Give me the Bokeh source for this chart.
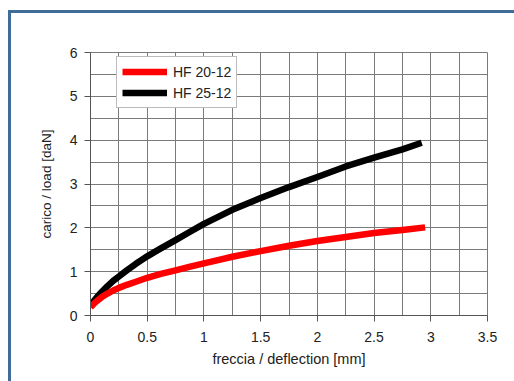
from bokeh.plotting import figure
from bokeh.embed import file_html
from bokeh.resources import INLINE
from bokeh.models import SingleIntervalTicker, Range1d, Legend, LegendItem

# data
x_hf25 = [0, 0.03, 0.06, 0.1, 0.15, 0.2, 0.25, 0.32, 0.4, 0.5, 0.62, 0.75, 0.87, 1.0,
          1.25, 1.5, 1.75, 2.0, 2.25, 2.5, 2.75, 2.92]
y_hf25 = [0.22, 0.33, 0.43, 0.54, 0.67, 0.79, 0.89, 1.03, 1.18, 1.35, 1.53, 1.72, 1.90, 2.09,
          2.41, 2.68, 2.93, 3.16, 3.40, 3.60, 3.79, 3.94]
x_hf20 = [0, 0.03, 0.06, 0.1, 0.15, 0.2, 0.25, 0.32, 0.4, 0.5, 0.62, 0.75, 0.87, 1.0,
          1.25, 1.5, 1.75, 2.0, 2.25, 2.5, 2.75, 2.95]
y_hf20 = [0.19, 0.27, 0.34, 0.42, 0.50, 0.57, 0.63, 0.70, 0.77, 0.86, 0.95, 1.03, 1.11, 1.19,
          1.34, 1.47, 1.59, 1.70, 1.79, 1.88, 1.95, 2.01]
series_names = ["HF 20-12", "HF 25-12"]
x_label = "freccia / deflection [mm]"
y_label = "carico / load [daN]"

FONT = "Liberation Sans"
GRID = "#7a7a7a"

p = figure(width=503, height=368, output_backend="svg", toolbar_location=None,
           x_range=Range1d(0, 3.5), y_range=Range1d(0, 6),
           min_border_left=79, min_border_top=39, min_border_right=27, min_border_bottom=66,
           frame_width=397, frame_height=263)
p.margin = (10, 0, 0, 8)
p.styles = {"border-top": "3px solid #3f6d98", "border-left": "3px solid #3f6d98"}
p.outline_line_color = GRID
p.background_fill_color = "white"
p.border_fill_color = "white"

p.xaxis.ticker = SingleIntervalTicker(interval=0.5, num_minor_ticks=2)
p.yaxis.ticker = SingleIntervalTicker(interval=1, num_minor_ticks=2)
for ax in (p.xaxis, p.yaxis):
    ax.axis_line_color = "#555555"
    ax.major_tick_line_color = "#555555"
    ax.major_tick_out = 6
    ax.major_tick_in = 0
    ax.minor_tick_line_color = None
    ax.major_label_text_font = FONT
    ax.major_label_text_font_size = "14px"
    ax.major_label_text_color = "#222222"
    ax.axis_label_text_font = FONT
    ax.axis_label_text_font_style = "normal"
    ax.axis_label_text_color = "#222222"
p.xaxis.axis_label = x_label
p.yaxis.axis_label = y_label
p.xaxis.axis_label_text_font_size = "14.5px"
p.yaxis.axis_label_text_font_size = "13.5px"
p.xaxis.major_label_standoff = 10
p.yaxis.major_label_standoff = 7
p.xaxis.axis_label_standoff = 6
p.yaxis.axis_label_standoff = 13

for g in (p.xgrid, p.ygrid):
    g.grid_line_color = GRID
    g.grid_line_width = 1
    g.minor_grid_line_color = GRID
    g.minor_grid_line_width = 1

r2 = p.line(x_hf25, y_hf25, line_color="#000000", line_width=6.5, line_join="round")
r1 = p.line(x_hf20, y_hf20, line_color="#ff0000", line_width=6.5, line_join="round")

legend = Legend(items=[LegendItem(label=series_names[0], renderers=[r1]),
                       LegendItem(label=series_names[1], renderers=[r2])],
                location=(26, 207))
legend.label_text_font = FONT
legend.label_text_font_size = "14px"
legend.label_text_color = "#222222"
legend.glyph_width = 45
legend.glyph_height = 19
legend.label_height = 19
legend.spacing = 2
legend.padding = 5
legend.margin = 0
legend.label_standoff = 6
legend.border_line_color = GRID
legend.border_line_width = 1
legend.background_fill_alpha = 1
p.add_layout(legend, "center")

open("out.html", "w").write(file_html(p, INLINE))
